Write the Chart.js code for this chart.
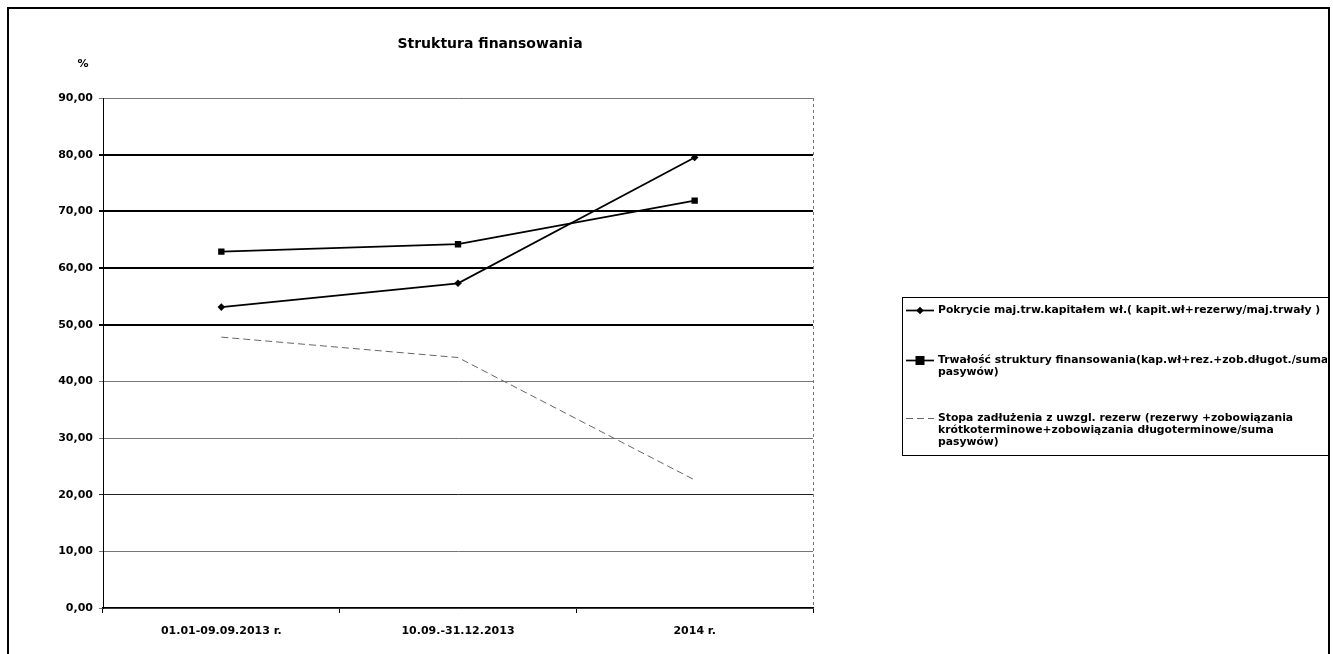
<!DOCTYPE html>
<html>
<head>
<meta charset="utf-8">
<script src="https://cdn.jsdelivr.net/npm/chart.js@4/dist/chart.umd.min.js"></script>
<style>
 html,body{margin:0;padding:0;background:#fff;}
 #wrap{position:absolute;left:0;top:0;width:1333px;height:654px;}
</style>
</head>
<body>
<div id="wrap"><canvas id="chart" width="1333" height="654"></canvas></div>
<script>
const categories=['01.01-09.09.2013 r.','10.09.-31.12.2013','2014 r.'];
const pokrycie=[53.1,57.3,79.5];
const trwalosc=[62.9,64.2,71.9];
const stopa=[47.8,44.2,22.6];
const yTicks=[0,10,20,30,40,50,60,70,80,90];
const seriesNames=[
 'Pokrycie maj.trw.kapitałem wł.( kapit.wł+rezerwy/maj.trwały )',
 'Trwałość struktury finansowania(kap.wł+rez.+zob.długot./suma pasywów)',
 'Stopa zadłużenia z uwzgl. rezerw (rezerwy +zobowiązania krótkoterminowe+zobowiązania długoterminowe/suma pasywów)'
];
const legendLines=[
 ['Pokrycie maj.trw.kapitałem wł.( kapit.wł+rezerwy/maj.trwały )'],
 ['Trwałość struktury finansowania(kap.wł+rez.+zob.długot./suma','pasywów)'],
 ['Stopa zadłużenia z uwzgl. rezerw (rezerwy +zobowiązania','krótkoterminowe+zobowiązania długoterminowe/suma','pasywów)']
];

const FONT='"DejaVu Sans", "Liberation Sans", sans-serif';
const heavy=[50,60,70,80];

const extras={
 id:'extras',
 afterDraw(chart){
  const {ctx,chartArea:a}=chart;
  ctx.save();
  // dashed right edge of plot
  ctx.strokeStyle='#777';ctx.lineWidth=1;ctx.setLineDash([3,3]);
  ctx.beginPath();ctx.moveTo(a.right+0.5,a.top);ctx.lineTo(a.right+0.5,a.bottom);ctx.stroke();
  ctx.setLineDash([]);
  // outer frame
  ctx.strokeStyle='#000';ctx.lineWidth=2;
  ctx.strokeRect(8,8,1321,660);
  // title and unit
  ctx.fillStyle='#000';
  ctx.font='bold 14px '+FONT;ctx.textAlign='center';ctx.textBaseline='middle';
  ctx.fillText('Struktura finansowania',490,44);
  ctx.font='bold 11px '+FONT;
  ctx.fillText('%',83,64);
  // legend
  const lx=902,ly=297,lr=1329,lb=455;
  ctx.lineWidth=1;ctx.strokeStyle='#000';
  ctx.strokeRect(lx+0.5,ly+0.5,lr-lx,lb-ly);
  ctx.beginPath();ctx.rect(lx,ly,lr-lx-2,lb-ly);ctx.clip();
  const rows=[310,360,418];
  ctx.font='bold 10.8px '+FONT;ctx.textAlign='left';ctx.textBaseline='middle';
  chart.data.datasets.forEach((ds,i)=>{
   const y=rows[i];
   ctx.strokeStyle=ds.borderColor;ctx.lineWidth=ds.borderWidth;
   ctx.setLineDash(ds.borderDash||[]);
   ctx.beginPath();ctx.moveTo(906,y+0.5);ctx.lineTo(934,y+0.5);ctx.stroke();
   ctx.setLineDash([]);
   if(ds.pointRadius>0){
    ctx.fillStyle='#000';
    const r=ds.pointRadius;
    ctx.beginPath();
    if(ds.pointStyle==='rect'){ctx.rect(920-r,y+0.5-r,2*r,2*r);}
    else{ctx.moveTo(920,y+0.5-r);ctx.lineTo(920+r,y+0.5);ctx.lineTo(920,y+0.5+r);ctx.lineTo(920-r,y+0.5);ctx.closePath();}
    ctx.fill();
   }
   ctx.fillStyle='#000';
   legendLines[i].forEach((t,k)=>ctx.fillText(t,938,y+k*12));
  });
  ctx.restore();
 }
};

new Chart(document.getElementById('chart'),{
 type:'line',
 data:{
  labels:categories,
  datasets:[
   {label:seriesNames[0],data:pokrycie,borderColor:'#000',backgroundColor:'#000',borderWidth:1.7,pointStyle:'rectRot',pointRadius:3.8,pointBorderWidth:0},
   {label:seriesNames[1],data:trwalosc,borderColor:'#000',backgroundColor:'#000',borderWidth:1.7,pointStyle:'rect',pointRadius:4.5,pointBorderWidth:0},
   {label:seriesNames[2],data:stopa,borderColor:'#666',backgroundColor:'#666',borderWidth:1,borderDash:[7,4],pointRadius:0}
  ]
 },
 options:{
  responsive:false,animation:false,
  layout:{padding:{top:98,right:520,left:0,bottom:0}},
  plugins:{legend:{display:false},tooltip:{enabled:false},title:{display:false}},
  scales:{
   x:{
    offset:true,
    grid:{offset:true,drawOnChartArea:false,color:'#000',tickLength:5},
    border:{color:'#000',width:1.5},
    ticks:{color:'#000',font:{family:FONT,size:11,weight:'bold'},padding:12,maxRotation:0},
    afterFit:s=>{s.height=46;}
   },
   y:{
    min:0,max:90,
    afterBuildTicks:s=>{s.ticks=yTicks.map(v=>({value:v}));},
    grid:{
     color:c=>heavy.includes(c.tick.value)?'#000':(c.tick.value===20?'#222':'#777'),
     lineWidth:c=>heavy.includes(c.tick.value)?2:1,
     tickLength:4
    },
    border:{color:'#000',width:1},
    ticks:{color:'#000',font:{family:FONT,size:11,weight:'bold'},padding:6,
     callback:v=>v.toFixed(2).replace('.',',')},
    afterFit:s=>{s.width=103;}
   }
  }
 },
 plugins:[extras]
});
</script>
</body>
</html>
